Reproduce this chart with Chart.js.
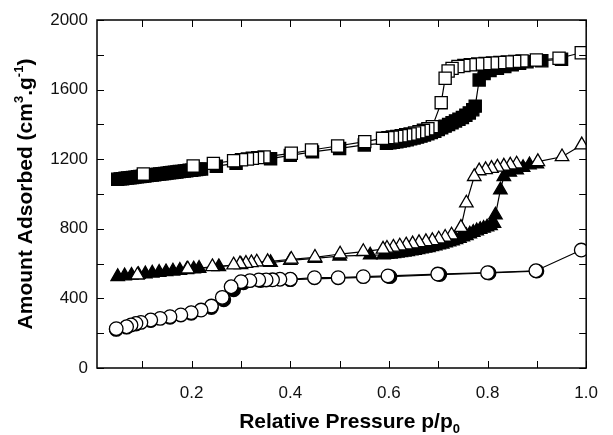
<!DOCTYPE html>
<html>
<head>
<meta charset="utf-8">
<script src="https://cdn.jsdelivr.net/npm/chart.js@4.4.0/dist/chart.umd.min.js"></script>
<style>
html, body { margin: 0; padding: 0; background: #fff; }
</style>
</head>
<body>
<canvas id="chart" width="613" height="435"></canvas>
<script>
// squares: adsorption (filled) / desorption (open)
const sqAdsX = [0.050,0.055,0.060,0.065,0.070,0.075,0.080,0.085,0.090,0.095,0.100,0.105,0.110,0.115,0.120,0.125,0.130,0.135,0.140,0.145,0.150,0.155,0.160,0.165,0.170,0.175,0.180,0.185,0.190,0.195,0.200,0.205,0.210,0.215,0.220,
    0.250,0.290,0.360,0.400,0.445,0.500,0.550,0.595,0.602,0.609,0.616,0.623,0.630,0.637,0.644,0.651,0.658,0.665,0.672,0.679,0.686,0.693,0.700,0.707,0.714,0.721,0.728,0.735,0.742,0.749,0.756,0.763,0.770,0.775,
    0.783,0.793,0.805,0.820,0.835,0.850,0.865,0.880,0.910,0.950];
const sqAdsY = [1085,1087,1088,1090,1092,1094,1095,1097,1099,1101,1102,1104,1106,1108,1109,1111,1113,1115,1116,1118,1120,1122,1123,1125,1127,1129,1130,1132,1134,1136,1137,1139,1141,1143,1144,
    1160,1176,1203,1222,1242,1262,1282,1292,1294,1297,1300,1304,1308,1312,1317,1322,1327,1333,1339,1346,1353,1361,1370,1380,1390,1400,1410,1420,1430,1440,1452,1466,1484,1505,
    1655,1693,1710,1722,1732,1742,1752,1760,1766,1774];
const sqDesX = [0.990,0.945,0.899,0.870,0.855,0.840,0.825,0.810,0.795,0.780,0.765,0.752,0.740,0.728,0.720,0.714,0.706,0.688,0.679,0.670,0.661,0.652,0.643,0.634,0.625,0.616,0.607,0.598,0.587,0.551,0.496,0.443,0.402,0.347,0.334,0.323,0.313,0.301,0.285,0.244,0.203,0.102];
const sqDesY = [1812,1780,1770,1765,1762,1759,1756,1753,1750,1747,1743,1739,1733,1722,1707,1665,1525,1387,1375,1366,1358,1351,1345,1340,1335,1331,1327,1324,1320,1301,1276,1253,1234,1213,1209,1205,1201,1197,1191,1176,1161,1115];

// triangles
const triAdsX = [0.050,0.064,0.078,0.092,0.106,0.120,0.134,0.148,0.162,0.176,0.190,0.204,0.215,0.255,0.300,0.360,0.400,0.450,0.500,0.562,
    0.589,0.596,0.603,0.610,0.617,0.624,0.631,0.638,0.645,0.652,0.659,0.666,0.673,0.680,0.687,0.694,0.701,0.708,0.715,0.722,0.729,0.736,0.743,0.750,0.757,0.764,0.771,0.778,0.785,0.792,0.799,0.806,0.813,
    0.816,0.826,0.833,0.845,0.859,0.872,0.885,0.900];
const triAdsY = [525,529,533,537,541,545,549,553,557,561,565,569,572,582,594,606,618,630,643,649,
    650,652,654,657,660,663,666,669,672,676,680,684,688,692,697,702,707,712,718,724,730,737,745,753,761,770,779,788,796,803,810,818,831,
    879,1023,1100,1125,1138,1152,1167,1172];
const triDesX = [0.991,0.951,0.902,0.859,0.846,0.833,0.820,0.808,0.796,0.783,0.773,0.757,0.746,0.727,0.714,0.701,0.688,0.675,0.661,0.648,0.635,0.622,0.609,0.596,0.588,0.548,0.501,0.450,0.402,0.354,0.332,0.321,0.310,0.298,0.285,0.242,0.192,0.090];
const triDesY = [1282,1214,1186,1172,1166,1160,1154,1147,1140,1133,1100,948,808,764,751,741,732,726,720,713,707,701,694,688,683,669,655,636,625,611,609,605,601,598,592,582,569,534];

// circles
const cirAdsX = [0.047,0.068,0.087,0.117,0.156,0.199,0.240,0.265,0.285,0.305,0.340,0.400,0.602,0.703,0.803,0.900];
const cirAdsY = [222,235,253,273,292,315,348,392,450,490,503,508,525,537,546,557];
const cirDesX = [0.990,0.898,0.800,0.699,0.598,0.548,0.497,0.449,0.400,0.379,0.364,0.351,0.336,0.318,0.300,0.280,0.262,0.240,0.219,0.199,0.178,0.156,0.136,0.117,0.097,0.087,0.077,0.068,0.047];
const cirDesY = [678,559,548,540,529,525,519,519,510,510,507,506,506,502,496,467,406,356,333,318,305,295,285,276,262,256,247,237,226];

// axes
const xTickLabels = [0.2, 0.4, 0.6, 0.8, 1.0];
const xMinorTicks = [0.1, 0.2, 0.3, 0.4, 0.5, 0.6, 0.7, 0.8, 0.9, 1.0];
const yTickLabels = [0, 400, 800, 1200, 1600, 2000];
const yMinorTicks = [0, 200, 400, 600, 800, 1000, 1200, 1400, 1600, 1800, 2000];

function pts(xs, ys) {
    return xs.map((x, i) => ({ x: x, y: ys[i] }));
}

function series(xs, ys, style, radius, filled, order) {
    return {
        data: pts(xs, ys),
        showLine: true,
        borderColor: '#000',
        borderWidth: 1.2,
        pointStyle: style,
        pointRadius: radius,
        pointBorderWidth: 1.3,
        pointBorderColor: '#000',
        pointBackgroundColor: filled ? '#000' : '#fff',
        order: order
    };
}

const FONT = '"Liberation Sans", Arial, Helvetica, sans-serif';

const decor = {
    id: 'decor',
    afterDraw(chart) {
        const ctx = chart.ctx;
        const a = chart.chartArea;
        const xs = chart.scales.x, ys = chart.scales.y;
        ctx.save();
        ctx.strokeStyle = '#000';
        ctx.lineWidth = 1;
        // inward ticks on all four sides
        const tl = 7;
        ctx.beginPath();
        xMinorTicks.forEach(v => {
            const px = Math.round(xs.getPixelForValue(v)) + 0.5;
            ctx.moveTo(px, a.bottom); ctx.lineTo(px, a.bottom - tl);
            ctx.moveTo(px, a.top); ctx.lineTo(px, a.top + tl);
        });
        yMinorTicks.forEach(v => {
            const py = Math.round(ys.getPixelForValue(v)) + 0.5;
            ctx.moveTo(a.left, py); ctx.lineTo(a.left + tl, py);
            ctx.moveTo(a.right, py); ctx.lineTo(a.right - tl, py);
        });
        ctx.stroke();
        ctx.lineWidth = 1.5;
        ctx.strokeRect(a.left, a.top, a.right - a.left, a.bottom - a.top);

        // axis titles
        ctx.fillStyle = '#000';
        const main = 'bold 21px ' + FONT, small = 'bold 13px ' + FONT;
        function drawParts(parts, cx, cy) {
            let w = 0;
            parts.forEach(p => { ctx.font = p[1] ? small : main; w += ctx.measureText(p[0]).width; });
            let x = cx - w / 2;
            ctx.textAlign = 'left';
            ctx.textBaseline = 'alphabetic';
            parts.forEach(p => {
                ctx.font = p[1] ? small : main;
                ctx.fillText(p[0], x, cy + (p[2] || 0));
                x += ctx.measureText(p[0]).width;
            });
        }
        drawParts([['Relative Pressure p/p'], ['0', true, 5]], (a.left + a.right) / 2 + 8, 428);
        ctx.translate(32, (a.top + a.bottom) / 2);
        ctx.rotate(-Math.PI / 2);
        drawParts([['Amount Adsorbed (cm'], ['3', true, -9], ['.g'], ['-1', true, -9], [')']], 0, 0);
        ctx.restore();
    }
};

const ctx = document.getElementById('chart');
const chart = new Chart(ctx, {
    type: 'scatter',
    data: {
        datasets: [
            series(sqDesX, sqDesY, 'rect', 8.6, false, 0),
            series(sqAdsX, sqAdsY, 'rect', 8.6, true, 1),
            series(triDesX, triDesY, 'triangle', 7.8, false, 0),
            series(triAdsX, triAdsY, 'triangle', 7.8, true, 1),
            series(cirDesX, cirDesY, 'circle', 6.8, false, 0),
            series(cirAdsX, cirAdsY, 'circle', 6.8, true, 1)
        ]
    },
    options: {
        responsive: false,
        animation: false,
        devicePixelRatio: 1,
        layout: { padding: { top: 20, right: 15, left: 0, bottom: 0 } },
        plugins: { legend: { display: false }, tooltip: { enabled: false } },
        scales: {
            x: {
                type: 'linear',
                min: 0.008,
                max: 1.0,
                grid: { display: false, drawTicks: false },
                border: { display: false },
                afterBuildTicks: s => { s.ticks = xTickLabels.map(v => ({ value: v })); },
                afterFit: s => { s.height = 67; },
                ticks: {
                    padding: 15,
                    color: '#111',
                    font: { family: FONT, size: 17 },
                    callback: v => v.toFixed(1)
                }
            },
            y: {
                type: 'linear',
                min: 0,
                max: 2000,
                grid: { display: false, drawTicks: false },
                border: { display: false },
                afterBuildTicks: s => { s.ticks = yTickLabels.map(v => ({ value: v })); },
                afterFit: s => { s.width = 97; },
                ticks: {
                    padding: 9,
                    color: '#111',
                    font: { family: FONT, size: 17 },
                    callback: v => String(v)
                }
            }
        }
    },
    plugins: [decor]
});
</script>
</body>
</html>
